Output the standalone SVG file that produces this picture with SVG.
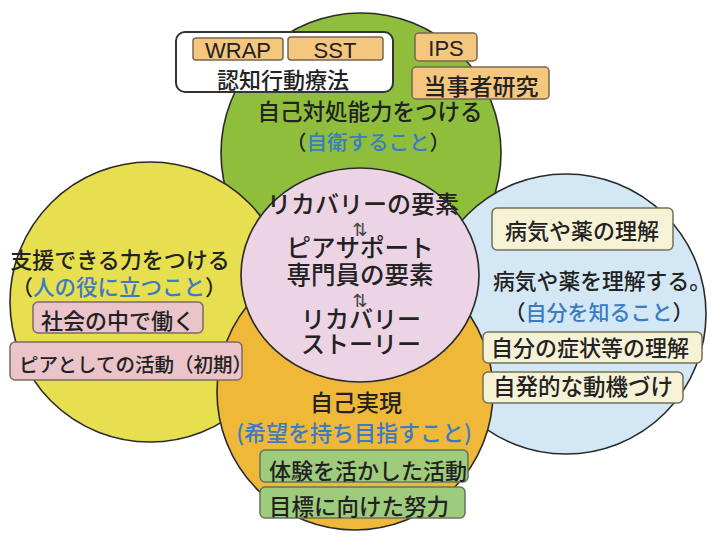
<svg xmlns="http://www.w3.org/2000/svg" width="712" height="536" viewBox="0 0 712 536">
<style>
.c{stroke:#2a2a2a;stroke-width:1.6}
.t{font-family:"Noto Sans CJK JP","Noto Sans",sans-serif;fill:#222;font-weight:500}
.l{font-family:"Liberation Sans",Arial,sans-serif;fill:#222}
.b{fill:#3a7bc4}
.tag{fill:#f5c67e;stroke:#7a6650;stroke-width:1.5}
.cream{fill:#f6f2d6;stroke:#76705a;stroke-width:1.5}
.pk{fill:#eac4c9;stroke:#7e6a6a;stroke-width:1.5}
.gr{fill:#9fcb7c;stroke:#66755a;stroke-width:1.5}
.ar{font-family:"DejaVu Sans",sans-serif;fill:#444;font-size:18px}
</style>
<rect width="712" height="536" fill="#fff"/>
<g id="circles">
<circle id="c-green" class="c" cx="361" cy="153" r="140" fill="#8fbe3c"/>
<circle id="c-yellow" class="c" cx="150" cy="302" r="140" fill="#e7df50"/>
<circle id="c-blue" class="c" cx="566" cy="314" r="140" fill="#d3e8f4"/>
<circle id="c-orange" class="c" cx="355" cy="392" r="138" fill="#f0b838"/>
<ellipse id="c-pink" class="c" cx="360" cy="275" rx="119" ry="107" fill="#ecd4e4"/>
</g>
<g id="connectors"></g>
<g id="node-green">
<rect x="176" y="32" width="217" height="60" rx="9" fill="#fff" stroke="#333" stroke-width="2"/>
<rect class="tag" x="193" y="38" width="90" height="22" rx="3"/>
<rect class="tag" x="288" y="37" width="95" height="23" rx="3"/>
<text class="l" x="238" y="58" font-size="22" text-anchor="middle">WRAP</text>
<text class="l" x="335" y="58" font-size="22" text-anchor="middle">SST</text>
<text class="t" x="283" y="88" font-size="22" text-anchor="middle">認知行動療法</text>
<rect class="tag" x="415" y="33" width="62" height="28" rx="4"/>
<text class="l" x="446" y="56" font-size="22" text-anchor="middle">IPS</text>
<rect class="tag" x="412" y="67" width="137" height="32" rx="4"/>
<text class="t" x="481" y="95" font-size="23" text-anchor="middle">当事者研究</text>
<text class="t" x="370" y="120" font-size="22.5" text-anchor="middle">自己対処能力をつける</text>
<text class="t" x="368" y="150" font-size="20.5" text-anchor="middle">（<tspan class="b">自衛すること</tspan>）</text>
</g>
<g id="node-yellow">
<text class="t" x="120" y="268" font-size="22" text-anchor="middle">支援できる力をつける</text>
<text class="t" x="119" y="295" font-size="21.5" text-anchor="middle">（<tspan class="b">人の役に立つこと</tspan>）</text>
<rect class="pk" x="33" y="302" width="170" height="31" rx="5"/>
<text class="t" x="118" y="329" font-size="22" text-anchor="middle">社会の中で働く</text>
<rect class="pk" x="10" y="342" width="232" height="38" rx="5"/>
<text class="t" x="19" y="372" font-size="19.5">ピアとしての活動（初期）</text>
</g>
<g id="node-blue">
<rect class="cream" x="492" y="208" width="181" height="42" rx="5"/>
<text class="t" x="582" y="239" font-size="22" text-anchor="middle">病気や薬の理解</text>
<text class="t" x="493" y="289" font-size="21.8">病気や薬を理解する。</text>
<text class="t" x="599" y="320" font-size="21" text-anchor="middle">（<tspan class="b">自分を知ること</tspan>）</text>
<rect class="cream" x="483" y="332" width="219" height="31" rx="5"/>
<text class="t" x="590" y="356" font-size="22" text-anchor="middle">自分の症状等の理解</text>
<rect class="cream" x="483" y="372" width="200" height="31" rx="5"/>
<text class="t" x="583" y="395" font-size="22.5" text-anchor="middle">自発的な動機づけ</text>
</g>
<g id="node-orange">
<text class="t" x="356" y="411" font-size="23" text-anchor="middle">自己実現</text>
<text class="t b" x="354" y="441" font-size="22" text-anchor="middle">(希望を持ち目指すこと)</text>
<rect class="gr" x="260" y="450" width="208" height="32" rx="5"/>
<text class="t" x="269" y="479" font-size="22">体験を活かした活動</text>
<rect class="gr" x="260" y="487" width="205" height="31" rx="5"/>
<text class="t" x="269" y="515" font-size="22.5">目標に向けた努力</text>
</g>
<g id="node-pink">
<text class="t" x="363" y="213" font-size="24" text-anchor="middle">リカバリーの要素</text>
<text class="ar" x="360" y="236" text-anchor="middle">⇅</text>
<text class="t" x="360" y="257" font-size="24.5" text-anchor="middle">ピアサポート</text>
<text class="t" x="360" y="284" font-size="24.5" text-anchor="middle">専門員の要素</text>
<text class="ar" x="360" y="307" text-anchor="middle">⇅</text>
<text class="t" x="361" y="328" font-size="24" text-anchor="middle">リカバリー</text>
<text class="t" x="361" y="353" font-size="24" text-anchor="middle">ストーリー</text>
</g>
</svg>
